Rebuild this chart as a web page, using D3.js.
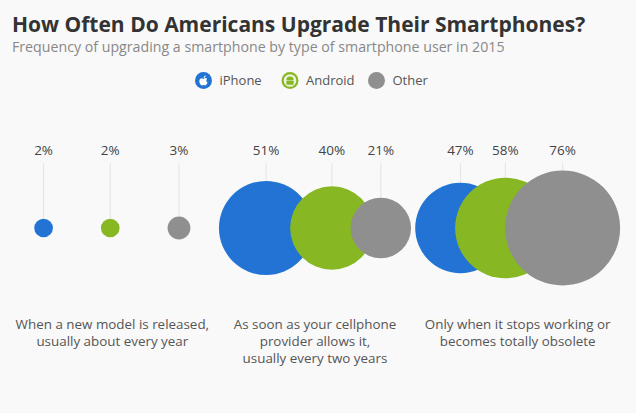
<!DOCTYPE html>
<html>
<head>
<meta charset="utf-8">
<script src="https://cdn.jsdelivr.net/npm/d3@7"></script>
<style>
  html, body { margin: 0; padding: 0; background: #f9f9f9; }
  svg { display: block; font-family: "Open Sans", sans-serif; }
</style>
</head>
<body>
<div id="chart"></div>
<script>
// ---- data ----
const categories = [
  ["When a new model is released,", "usually about every year"],
  ["As soon as your cellphone", "provider allows it,", "usually every two years"],
  ["Only when it stops working or", "becomes totally obsolete"]
];
const series = ["iPhone", "Android", "Other"];
const iphoneValues  = [2, 51, 47];
const androidValues = [2, 40, 58];
const otherValues   = [3, 21, 76];
const valueLabels = v => v + "%";

// ---- layout / style (not data) ----
const W = 636, H = 413;
const colors = { iPhone: "#2273d3", Android: "#87b824", Other: "#8f8f90" };
const cy = 228;
const groupOverlap = [-48, 23, 50.5]; // how much neighbouring bubbles overlap in each group

const svg = d3.select("#chart").append("svg").attr("width", W).attr("height", H);
svg.append("rect").attr("width", W).attr("height", H).attr("fill", "#f9f9f9");

// Title
svg.append("text").attr("x", 12).attr("y", 32)
  .attr("font-size", 21).attr("font-weight", 700).attr("fill", "#333")
  .text("How Often Do Americans Upgrade Their Smartphones?");
svg.append("text").attr("x", 12).attr("y", 52)
  .attr("font-size", 14.2).attr("fill", "#888")
  .text("Frequency of upgrading a smartphone by type of smartphone user in 2015");

// Legend
const legendX = d3.scalePoint().domain(series).range([203.5, 376.5]);
const lg = svg.append("g").selectAll("g").data(series).join("g")
  .attr("transform", d => `translate(${legendX(d)},80.5)`);
lg.append("circle").attr("r", 8.5).attr("fill", d => colors[d]);
// iPhone apple glyph
lg.filter(d => d === "iPhone").each(function() {
  const g = d3.select(this);
  g.append("path").attr("fill", "#fff")
    .attr("d", "M0,-1.6 C-1.2,-2.6 -4.2,-2.4 -4.2,0.8 C-4.2,3.4 -2.4,5 -1.3,5 C-0.6,5 -0.5,4.6 0,4.6 C0.5,4.6 0.6,5 1.3,5 C2.4,5 3.6,3.2 4,2 C2.6,1.4 2.4,-1 3.6,-1.8 C2.8,-2.8 1.2,-2.6 0,-1.6 Z");
  g.append("path").attr("fill", "#fff")
    .attr("d", "M0.1,-2.4 C0.1,-3.8 1.2,-4.8 2.2,-4.9 C2.2,-3.6 1.3,-2.5 0.1,-2.4 Z");
});
// Android glyph
lg.filter(d => d === "Android").each(function() {
  const g = d3.select(this);
  g.append("circle").attr("r", 6.3).attr("fill", "#eef3e0");
  g.append("path").attr("fill", colors.Android)
    .attr("d", "M-3.6,-0.6 A3.6,3.4 0 0 1 3.6,-0.6 Z");
  g.append("rect").attr("x", -3.6).attr("y", 0).attr("width", 7.2).attr("height", 4.2)
    .attr("rx", 0.8).attr("fill", colors.Android);
});
lg.append("text").attr("x", 16).attr("y", 4.6)
  .attr("font-size", 13).attr("fill", "#555").text(d => d);

// Scales
const band = d3.scaleBand().domain(d3.range(categories.length)).range([11, 619]);
const r = d3.scaleSqrt().domain([0, 76]).range([0, 57.5]);

// Build bubble records from the arrays
const valuesBySeries = { iPhone: iphoneValues, Android: androidValues, Other: otherValues };
const bubbles = [];
categories.forEach((cat, gi) => {
  const row = series.map(s => ({ series: s, value: valuesBySeries[s][gi], group: gi }));
  let x = 0;
  row.forEach((b, i) => {
    b.r = r(b.value);
    if (i > 0) x += row[i - 1].r + b.r - groupOverlap[gi];
    b.rel = x;
  });
  const left = row[0].rel - row[0].r;
  const right = row[row.length - 1].rel + row[row.length - 1].r;
  const center = band(gi) + band.bandwidth() / 2;
  const shift = center - (left + right) / 2;
  row.forEach(b => { b.cx = b.rel + shift; bubbles.push(b); });
});

// Leader lines
svg.append("g").selectAll("line").data(bubbles).join("line")
  .attr("x1", d => d.cx).attr("x2", d => d.cx)
  .attr("y1", 163).attr("y2", d => cy - d.r)
  .attr("stroke", "#e4e4e4").attr("stroke-width", 1);

// Bubbles
svg.append("g").selectAll("circle").data(bubbles).join("circle")
  .attr("cx", d => d.cx).attr("cy", cy).attr("r", d => d.r)
  .attr("fill", d => colors[d.series]);

// Value labels
svg.append("g").selectAll("text").data(bubbles).join("text")
  .attr("x", d => d.cx).attr("y", 155).attr("text-anchor", "middle")
  .attr("font-size", 13.5).attr("fill", "#444")
  .text(d => valueLabels(d.value));

// Category labels (one text per line)
const lines = [];
categories.forEach((cat, i) => cat.forEach((t, j) => lines.push({ t, i, j })));
svg.append("g").selectAll("text").data(lines).join("text")
  .attr("text-anchor", "middle").attr("font-size", 13.4).attr("fill", "#555")
  .attr("x", d => band(d.i) + band.bandwidth() / 2)
  .attr("y", d => 329 + d.j * 17)
  .text(d => d.t);
</script>
</body>
</html>
